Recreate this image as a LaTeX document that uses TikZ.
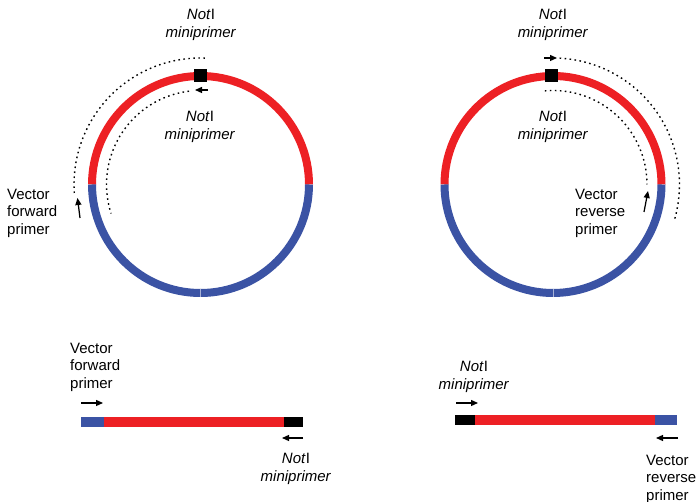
\documentclass[tikz,border=0pt]{standalone}
\usepackage{fontspec}
\setmainfont{Liberation Sans}
\usetikzlibrary{arrows.meta}
\definecolor{plasred}{RGB}{237,32,36}
\definecolor{plasblue}{RGB}{59,83,164}

\begin{document}
\begin{tikzpicture}[x=1pt,y=1pt,
  ring/.style={line width=8pt},
  seam/.style={line width=0.6pt, white!55!plasblue},
  ext/.style={line width=1.4pt, dash pattern=on 1.6pt off 3.4pt},
  primer/.style={line width=1.25pt, -{Triangle[length=7pt,width=6pt]}},
  lbl/.style={font=\fontsize{15}{17.5}\selectfont, inner sep=0pt, align=center},
  lblL/.style={lbl, align=left, anchor=west},
  site/.style={fill=black, minimum size=13pt, inner sep=0pt},
  bar/.style={line width=9.5pt}
]
\useasboundingbox (0,0) rectangle (699,502);

% ---------- left plasmid ----------
\coordinate (L) at (200.5,317.5);
\draw[ring, plasred]  ([shift={(0:108.5)}]L)   arc[start angle=0,   end angle=180, radius=108.5];
\draw[ring, plasblue] ([shift={(180:108.5)}]L) arc[start angle=180, end angle=270, radius=108.5];
\draw[ring, plasblue] ([shift={(270:108.5)}]L) arc[start angle=270, end angle=360, radius=108.5];
\draw[seam] ([shift={(270:104.5)}]L) -- ([shift={(270:112.5)}]L);
\node[site] (Lnot) at ([shift={(90:108.5)}]L) {};

% extension products
\draw[ext] ([shift={(88:126.5)}]L) arc[start angle=88, end angle=185, radius=126.5];
\draw[ext] ([shift={(97:94)}]L)    arc[start angle=97, end angle=198, radius=94];

% primers
\coordinate (Lm1) at (208,412);   \coordinate (Lm2) at (195,412);
\draw[primer] (Lm1) -- (Lm2);
\coordinate (Lf1) at (80,284);    \coordinate (Lf2) at (77.5,304);
\draw[primer] (Lf1) -- (Lf2);

\node[lbl]  (Ltop) at (201,477) {\textit{Not}I\\\textit{miniprimer}};
\node[lbl]  (Lmid) at (200,375) {\textit{Not}I\\\textit{miniprimer}};
\node[lblL] (Lfwd) at (7,289)   {Vector\\forward\\primer};

% ---------- right plasmid ----------
\coordinate (R) at (553,317.5);
\draw[ring, plasred]  ([shift={(0:108.5)}]R)   arc[start angle=0,   end angle=180, radius=108.5];
\draw[ring, plasblue] ([shift={(180:108.5)}]R) arc[start angle=180, end angle=270, radius=108.5];
\draw[ring, plasblue] ([shift={(270:108.5)}]R) arc[start angle=270, end angle=360, radius=108.5];
\draw[seam] ([shift={(270:104.5)}]R) -- ([shift={(270:112.5)}]R);
\node[site] (Rnot) at (551.5,426) {};

% extension products
\draw[ext] ([shift={(87:126.5)}]R) arc[start angle=87, end angle=-16, radius=126.5];
\draw[ext] ([shift={(95:94)}]R)    arc[start angle=95, end angle=0,   radius=94];

% primers
\coordinate (Rm1) at (544,444);   \coordinate (Rm2) at (557,444);
\draw[primer] (Rm1) -- (Rm2);
\coordinate (Rr1) at (644,290);   \coordinate (Rr2) at (648,311);
\draw[primer] (Rr1) -- (Rr2);

\node[lbl]  (Rtop) at (553,477) {\textit{Not}I\\\textit{miniprimer}};
\node[lbl]  (Rmid) at (553,375) {\textit{Not}I\\\textit{miniprimer}};
\node[lblL] (Rrev) at (575,289) {Vector\\reverse\\primer};

% ---------- left linear product ----------
\coordinate (A0) at (81,80);  \coordinate (A1) at (104,80);
\coordinate (A2) at (284,80); \coordinate (A3) at (303,80);
\draw[bar, plasblue] (A0) -- (A1);
\draw[bar, plasred]  (A1) -- (A2);
\draw[bar, black]    (A2) -- (A3);
\coordinate (Af1) at (81,99);  \coordinate (Af2) at (103,99);
\draw[primer] (Af1) -- (Af2);
\coordinate (Am1) at (303,64); \coordinate (Am2) at (282,64);
\draw[primer] (Am1) -- (Am2);
\node[lblL] (Afwd) at (70,135) {Vector\\forward\\primer};
\node[lbl]  (Anot) at (296,33) {\textit{Not}I\\\textit{miniprimer}};

% ---------- right linear product ----------
\coordinate (C0) at (455,82);  \coordinate (C1) at (475,82);
\coordinate (C2) at (655,82);  \coordinate (C3) at (677,82);
\draw[bar, black]    (C0) -- (C1);
\draw[bar, plasred]  (C1) -- (C2);
\draw[bar, plasblue] (C2) -- (C3);
\coordinate (Cm1) at (456,99); \coordinate (Cm2) at (478,99);
\draw[primer] (Cm1) -- (Cm2);
\coordinate (Cr1) at (678,64); \coordinate (Cr2) at (656,64);
\draw[primer] (Cr1) -- (Cr2);
\node[lbl]  (Cnot) at (474,125) {\textit{Not}I\\\textit{miniprimer}};
\node[lblL] (Crev) at (646,23)  {Vector\\reverse\\primer};
\end{tikzpicture}
\end{document}
